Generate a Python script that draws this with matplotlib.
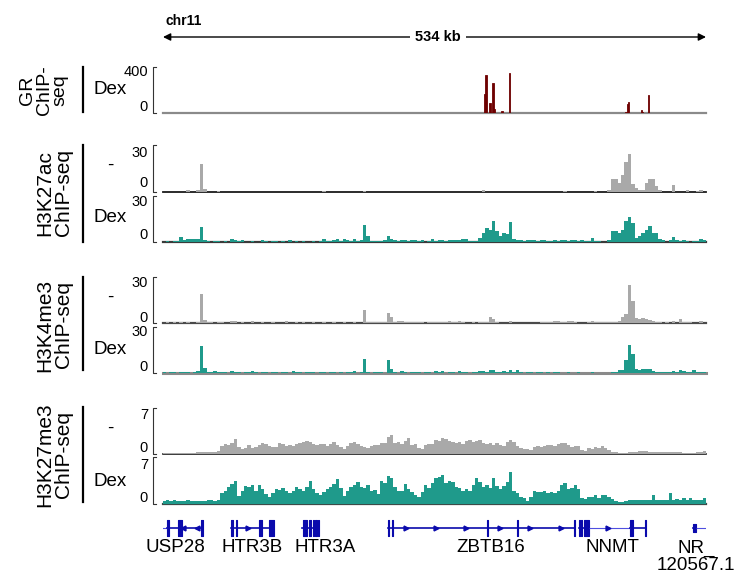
import matplotlib
matplotlib.use("Agg")
import matplotlib.pyplot as plt
import matplotlib.transforms as mtransforms
import numpy as np

# region: chr11, 534 kb, signal binned into 160 bins
region_kb = 534
n_bins = 160

# GR ChIP-seq (Dex), sparse peaks: position (kb) and height
gr_kb = [316.5, 317.9, 321.8, 324.8, 326.1, 333.6, 341.0,
         455.5, 456.9, 458.0, 470.3, 471.5, 477.2]
gr_val = [166, 329, 89, 260, 37, 14, 346,
          6, 80, 97, 29, 9, 157]

k27ac_minus = [
    0, 0, 0, 0, 0, 0, 0, 1, 0, 0,
    1, 18, 2, 0, 0, 0, 0.5, 0, 0, 0,
    0, 0, 0, 0, 0, 0, 0, 0, 0, 0,
    0, 0, 0, 0, 0, 0, 0, 0, 0, 0,
    0, 0, 0, 0, 0, 0, 0, 0.5, 0, 0,
    0, 0, 0, 0, 0, 0, 0, 0, 0, 0.5,
    0, 0, 0, 0, 0, 0, 0, 0, 0, 0,
    0, 0, 0, 0, 0, 0, 0, 0, 0, 0,
    0, 0, 0, 0, 0, 0, 0, 0, 0, 0,
    0, 0, 0, 0, 1.5, 0, 0, 0, 0, 0,
    0, 0, 0, 0, 0, 0, 0, 0, 0, 0,
    0, 0, 0, 0, 0, 0, 0, 0, 0.5, 0,
    0, 0, 0, 0, 0, 0, 0, 0.5, 0, 0,
    0, 1, 8.5, 8, 6, 11, 19, 24.5, 5, 2.5,
    1.2, 1.5, 6, 8, 8, 4, 1.2, 0, 0, 0,
    4.5, 0, 0, 0, 1, 0, 0, 0.8, 1.5, 0,
]
k27ac_dex = [
    0, 0.7, 0, 0.3, 0.7, 2.8, 1, 2, 1.5, 1.5,
    1.5, 9.4, 1, 0.3, 0, 0.5, 0.5, 0, 0.3, 0,
    1.5, 1, 0.3, 0.8, 0, 0, 0.3, 0, 0, 1,
    0.3, 0, 0.3, 0.5, 0, 0.3, 0, 1, 0, 0.5,
    0, 0.3, 0, 0, 0.3, 0, 0.5, 1.5, 0.5, 0.3,
    1, 2, 0.5, 1.5, 1, 0.3, 1.5, 0.5, 1, 11,
    4, 0.3, 0.3, 0.5, 0.3, 1, 4, 1.5, 0.8, 0.5,
    1, 0.8, 0.5, 0.8, 1, 0.5, 0.8, 0, 0.5, 1.5,
    0.3, 1.2, 0.8, 0.3, 0.8, 0.8, 0.8, 0.8, 1.5, 1.5,
    0.5, 0.5, 0.5, 2.5, 6, 9, 8, 13.5, 7, 3.5,
    5.5, 5, 13, 1.5, 0.8, 0.8, 0.3, 1, 1, 0.8,
    0.3, 0.8, 0.8, 0.3, 0.5, 0.8, 0.3, 0.8, 0.8, 0.5,
    0.8, 0.8, 0.3, 0.8, 0.5, 0.3, 2.2, 0.5, 0.5, 0,
    0, 1, 7, 7, 6, 8, 13.5, 16, 12, 2.6,
    4, 6, 7.5, 10, 5.5, 6, 1.5, 0.8, 0, 1,
    2.8, 0.8, 0.5, 0.8, 0.3, 0, 0.3, 0.5, 1.5, 1,
]
k4me3_minus = [
    0, 0.5, 0, 0.5, 0, 0.5, 0, 0.5, 0, 0,
    0.5, 19, 1.5, 0.5, 0.5, 0, 0.5, 0.5, 0, 0,
    1, 1.2, 0, 0.5, 0, 0, 1, 0, 0, 0.5,
    0, 0, 0.5, 0, 0, 0, 1, 0, 0, 0.5,
    0, 0.5, 0, 0, 0.5, 0, 0, 0.5, 0, 0,
    0.5, 0, 0, 0.5, 0, 0, 0.5, 0, 0, 8.4,
    0.5, 0.3, 0.5, 0.3, 0.5, 0.3, 6.5, 4, 0.3, 1.1,
    1.1, 0.5, 0.3, 0.5, 0.5, 0.3, 0.5, 0, 0.5, 0.5,
    0.5, 0.3, 0.5, 0.5, 1, 0.3, 0.5, 0.8, 0.3, 0,
    0, 0.3, 0, 0.5, 0.5, 0.5, 3.8, 2.4, 0.5, 0,
    0, 0, 1, 0, 0, 0, 0, 0, 0, 0,
    0, 0.5, 0.3, 0.5, 0.3, 1, 0.8, 0.3, 0.5, 0.8,
    0.8, 0.3, 0, 0, 0, 0.3, 0.8, 0.5, 0.3, 0.5,
    0.5, 0.5, 0.5, 0.5, 0.8, 3.5, 6, 25, 14, 2.8,
    2.5, 3, 2.4, 2, 1, 0.5, 0.5, 0, 0.4, 0,
    0.8, 0, 2.4, 0.5, 0.4, 0.5, 0, 0, 0.8, 0,
]
k4me3_dex = [
    0.3, 0, 0.3, 0.3, 0, 0.3, 0.3, 0.3, 0, 0.3,
    1, 17.5, 3, 0.3, 0.3, 1, 0.3, 0.5, 0.3, 0,
    0.8, 0.3, 0.3, 0, 0.3, 0.3, 1, 0.3, 0, 0.5,
    0.3, 0, 0.3, 0.3, 0, 0.3, 0.3, 0, 0.8, 0.3,
    0.3, 0, 0.3, 0.3, 0.3, 0, 0.3, 0.3, 0, 0.3,
    0.3, 0, 0.3, 0, 0.3, 0.3, 0.8, 0, 0.3, 8.7,
    0.3, 0, 0.3, 0.3, 0.3, 0, 8.3, 2.5, 0.3, 0,
    0.8, 0.3, 0, 0.3, 0.3, 0.3, 0, 0.3, 0.3, 0,
    0.8, 0.3, 0.8, 0, 0.3, 0.3, 0, 0.8, 0.3, 0.3,
    0, 0.3, 0.3, 0.8, 0.8, 0.3, 1.7, 1.7, 0.3, 0.3,
    0.8, 0.3, 1.7, 0.3, 1.7, 0.3, 0, 0.3, 0.3, 0,
    0.3, 0.3, 0, 0.3, 0, 0.3, 0.3, 0, 0, 0.3,
    0, 0, 0.3, 0, 0, 0, 0.3, 0, 0, 0,
    0, 0, 0.3, 0.3, 1.7, 1.5, 8, 18, 12, 2.5,
    1.5, 2.2, 2.2, 2.2, 1, 0.5, 0.5, 0.5, 0.5, 0.3,
    0.8, 0.3, 1.7, 0.8, 0.3, 0.5, 1.7, 0.5, 0.3, 0.3,
]
k27me3_minus = [
    0.15, 0.15, 0.1, 0.15, 0.15, 0.1, 0.15, 0.15, 0.1, 0.2,
    0.35, 0.3, 0.35, 0.3, 0.35, 0.3, 0.5, 1.2, 1.45, 1.4,
    1.6, 2.2, 1.0, 0.7, 0.9, 1.35, 0.95, 1.1, 1.35, 1.7,
    1.45, 1.15, 1.05, 1.1, 1.6, 1.45, 1.2, 1.35, 1.25, 1.45,
    1.6, 1.75, 1.95, 1.8, 1.5, 1.35, 1.5, 1.55, 1.2, 1.45,
    1.75, 1.35, 1.1, 0.7, 1.2, 1.6, 1.75, 1.5, 1.2, 1.0,
    0.85, 1.2, 1.3, 1.4, 1.6, 1.7, 2.6, 2.85, 1.6, 1.85,
    1.5, 1.9, 2.4, 1.4, 1.45, 0.9, 0.7, 1.4, 1.45, 1.5,
    2.1, 1.95, 2.4, 2.2, 1.9, 1.8, 1.6, 1.85, 1.5, 1.9,
    2.1, 1.75, 1.95, 2.1, 1.7, 1.45, 1.6, 1.4, 1.6, 1.35,
    1.25, 1.85, 2.1, 1.85, 1.25, 0.95, 0.75, 0.7, 0.6, 1.1,
    1.2, 1.1, 1.25, 1.35, 1.3, 1.25, 1.45, 1.7, 1.65, 1.4,
    1.1, 1.25, 1.2, 0.6, 0.45, 0.85, 0.7, 1.1, 0.85, 1.2,
    0.95, 0.6, 0.35, 0.3, 0.15, 0.15, 0.2, 0.35, 0.3, 0.35,
    0.4, 0.4, 0.4, 0.35, 0.35, 0.35, 0.35, 0.3, 0.3, 0.3,
    0.35, 0.35, 0.35, 0.2, 0.2, 0.2, 0.2, 0.35, 0.35, 0.45,
]
k27me3_dex = [
    0.5, 0.65, 0.5, 0.55, 0.5, 0.45, 0.45, 0.55, 0.5, 0.45,
    0.5, 0.5, 0.45, 0.6, 0.65, 0.5, 0.55, 1.6, 1.9, 2.6,
    3.0, 3.5, 1.2, 1.9, 2.7, 2.5, 2.9, 2.0, 2.8, 2.3,
    1.5, 1.1, 1.6, 2.3, 2.1, 2.35, 1.9, 1.6, 1.9, 2.5,
    2.3, 1.9, 2.6, 3.5, 2.2, 1.6, 1.4, 1.85, 2.3, 2.6,
    3.0, 3.7, 2.4, 1.2, 2.0, 2.6, 2.85, 3.3, 2.6, 2.35,
    2.85, 1.9, 2.1, 1.5, 3.5, 3.2, 4.2, 3.8, 2.5, 1.9,
    2.0, 3.0, 2.2, 1.85, 1.4, 1.1, 1.8, 2.8, 2.4, 3.1,
    3.8, 4.0, 4.3, 3.1, 3.5, 3.3, 2.6, 2.35, 1.9, 2.3,
    1.9, 2.9, 3.9, 3.3, 2.6, 2.85, 2.35, 3.8, 2.7, 2.2,
    2.7, 3.3, 4.8, 2.0, 1.6, 1.1, 0.85, 0.4, 1.1, 1.95,
    1.85, 1.85, 1.95, 1.6, 1.75, 1.6, 2.0, 2.85, 3.1, 2.3,
    2.4, 2.85, 2.3, 0.85, 0.8, 1.1, 1.0, 1.3, 0.85, 1.4,
    1.3, 1.0, 0.75, 0.5, 0.35, 0.35, 0.4, 0.6, 0.6, 0.55,
    0.6, 0.6, 0.6, 0.6, 1.3, 0.6, 0.6, 0.55, 0.6, 1.7,
    0.6, 0.7, 0.55, 0.9, 0.6, 0.85, 0.55, 0.6, 0.6, 0.95,
]

# genes (kb from left edge of region)
gene_names = ["USP28", "HTR3B", "HTR3A", "ZBTB16", "NNMT", "NR_\n120567.1"]
gene_start = [0.0, 67.3, 137.4, 221.8, 409.0, 521.0]
gene_end = [39.5, 109.6, 154.1, 405.3, 475.0, 534.0]
gene_strand = ["-", "+", "+", "+", "+", "+"]
gene_exons = [
    [(4.1, 6.7), (15.5, 18.9), (37.8, 39.5)],
    [(67.3, 69.6), (71.9, 73.5), (95.1, 97.5), (104.9, 109.6)],
    [(138.0, 142.0), (144.4, 145.9), (147.4, 148.9), (150.3, 151.8), (152.3, 153.8)],
    [(221.8, 222.5), (225.8, 226.8), (318.8, 320.3), (348.3, 349.6), (404.3, 405.3)],
    [(409.0, 410.0), (411.4, 412.4), (414.1, 419.5), (459.6, 462.0), (474.2, 475.0)],
    [(521.0, 524.2)],
]
gene_light = [(0.0, 4.1), None, None, None, (419.5, 459.6), (524.2, 534.0)]
gene_arrows = [[20.4, 33.6], [84.0], [], [239.2, 268.7, 298.2, 331.6, 361.1, 391.5],
               [438.2], []]

# ---------------------------------------------------------------
plt.rcParams["font.family"] = ["Liberation Sans", "DejaVu Sans"]

W, H = 742, 575
X0, X1 = 162.5, 706.0
GREY = "#a9a9a9"
TEAL = "#1f9a8b"
GR_RED = "#6e0000"
GENE_BLUE = "#0a0aac"

fig = plt.figure(figsize=(W / 100, H / 100), dpi=100)


def px_axes(x0, y0, x1, y1):
    return fig.add_axes([x0 / W, 1 - y1 / H, (x1 - x0) / W, (y1 - y0) / H])


ov = fig.add_axes([0, 0, 1, 1])
ov.set_xlim(0, W)
ov.set_ylim(H, 0)
ov.axis("off")

edges = np.linspace(0, region_kb, n_bins + 1)

# signal tracks: values, colour, max, top px, base px, base colour, base lw, labels y
tracks = [
    (k27ac_minus, GREY, 30, 145, 192, "#1a1a1a", 1.3, 152.7, 183.3),
    (k27ac_dex, TEAL, 30, 196, 241.7, "#3a3a3a", 1.6, 201.7, 235),
    (k4me3_minus, GREY, 30, 277, 322.7, "#4a4a4a", 1.6, 282.7, 317.7),
    (k4me3_dex, TEAL, 30, 326.7, 372.7, "#8a8a8a", 2.2, 331.7, 367.3),
    (k27me3_minus, GREY, 7, 407.7, 454, "#1a1a1a", 1.2, 415, 447.7),
    (k27me3_dex, TEAL, 7, 457, 504, "#3d4a48", 1.6, 465, 498.3),
]

# GR track
ax = px_axes(X0, 67, X1, 113)
ax.bar(gr_kb, gr_val, width=1.2, color=GR_RED, edgecolor=GR_RED,
       linewidth=0.6, zorder=2)
ax.axhline(0, color="#8a8a8a", lw=1.6, clip_on=False, zorder=1)
ax.set_xlim(0, region_kb)
ax.set_ylim(0, 400)
ax.axis("off")
bracket_rows = [(67, 113, "400", "0", 72, 107.3)]

for vals, col, ymax, top, base, bcol, blw, ly_top, ly_bot in tracks:
    ax = px_axes(X0, top, X1, base)
    ax.stairs(vals, edges, fill=True, color=col, linewidth=0, zorder=2)
    ax.axhline(0, color=bcol, lw=blw, clip_on=False, zorder=1)
    ax.set_xlim(0, region_kb)
    ax.set_ylim(0, ymax)
    ax.axis("off")
    bracket_rows.append((top, base, str(ymax), "0", ly_top, ly_bot))

# scale brackets and labels
for top, base, t_lab, b_lab, ly_top, ly_bot in bracket_rows:
    ov.plot([156, 153, 153, 156], [top, top, base, base], color="#333333", lw=0.8)
    ov.text(148, ly_top, t_lab, ha="right", va="center", fontsize=10.5)
    ov.text(148, ly_bot, b_lab, ha="right", va="center", fontsize=10.5)

# condition labels
cond_labels = [("Dex", 90), ("-", 165), ("Dex", 218), ("-", 297),
               ("Dex", 350), ("-", 428), ("Dex", 482)]
for txt, y in cond_labels:
    ov.text(110, y, txt, ha="center", va="center", fontsize=13.5)

# group labels with vertical bars
groups = [("GR\nChIP-\nseq", 44, 90, 14, 67, 112),
          ("H3K27ac\nChIP-seq", 54, 193, 15, 145, 242),
          ("H3K4me3\nChIP-seq", 54, 325, 15, 277, 370),
          ("H3K27me3\nChIP-seq", 54, 455, 15, 407, 502)]
for txt, x, y, fs, b0, b1 in groups:
    ov.text(x, y, txt, rotation=90, ha="center", va="center",
            multialignment="center", fontsize=fs, linespacing=0.95)
    ov.plot([83, 83], [b0, b1], color="black", lw=1.6)

# top scale
ov.text(166, 21, "chr11", ha="left", va="center", fontsize=10, fontweight="bold")
ov.annotate("", xy=(163, 37), xytext=(706, 37),
            arrowprops=dict(arrowstyle="<|-|>", color="black", lw=1,
                            mutation_scale=11, shrinkA=0, shrinkB=0))
ov.text(438, 37, "534 kb", ha="center", va="center", fontsize=10.5,
        fontweight="bold", bbox=dict(boxstyle="square,pad=0.35", fc="white", ec="none"))

# genes
gax = px_axes(X0, 516, X1, 540)
gax.set_xlim(0, region_kb)
gax.set_ylim(-12, 12)
gax.axis("off")
for i, name in enumerate(gene_names):
    s, e = gene_start[i], gene_end[i]
    light = gene_light[i]
    if light is None:
        dark = [(s, e)]
    else:
        dark = [(a, b) for a, b in [(s, light[0]), (light[1], e)] if b - a > 0.5]
        gax.plot(light, [0, 0], color="#4f4fe0", lw=0.8)
    for a, b in dark:
        gax.plot([a, b], [0, 0], color=GENE_BLUE, lw=1.2)
    h = 4 if name.startswith("NR") else 8
    gax.broken_barh([(a, b - a) for a, b in gene_exons[i]], (-h, 2 * h),
                    facecolor=GENE_BLUE, edgecolor=GENE_BLUE, linewidth=0.8)
    mk = ">" if gene_strand[i] == "+" else "<"
    if gene_arrows[i]:
        gax.plot(gene_arrows[i], [0] * len(gene_arrows[i]), linestyle="none",
                 marker=mk, markersize=3.5, color=GENE_BLUE)

label_kb = [12.3, 87.6, 159.7, 322.7, 442.3, 524.2]
label_y = [548, 548, 548, 548, 548, 557]
trans = mtransforms.blended_transform_factory(gax.transData, ov.transData)
for name, x, y in zip(gene_names, label_kb, label_y):
    gax.text(x, y, name, transform=trans, ha="center", va="center",
             fontsize=13.5, linespacing=0.95, clip_on=False)

fig.savefig("out.png", dpi=100)
